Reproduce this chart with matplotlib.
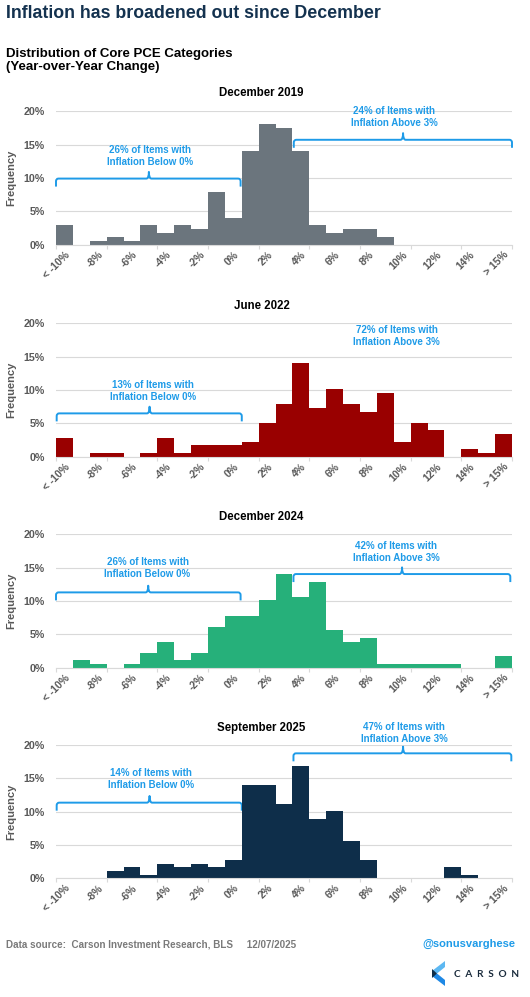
import matplotlib
matplotlib.use("Agg")
import matplotlib.pyplot as plt
from matplotlib.path import Path
from matplotlib.patches import PathPatch, Polygon

plt.rcParams['font.family'] = ['Liberation Sans', 'DejaVu Sans']

# ---------------- data ----------------
categories = ["< -10%", "-9%", "-8%", "-7%", "-6%", "-5%", "-4%", "-3%", "-2%", "-1%",
              "0%", "1%", "2%", "3%", "4%", "5%", "6%", "7%", "8%", "9%", "10%",
              "11%", "12%", "13%", "14%", "15%", "> 15%"]

panel_titles = ["December 2019", "June 2022", "December 2024", "September 2025"]

dec2019 = [2.9, 0, 0.6, 1.1, 0.6, 2.9, 1.7, 2.9, 2.3, 7.9, 4.0, 14.1, 18.1, 17.5,
           14.1, 2.9, 1.7, 2.3, 2.3, 1.1, 0, 0, 0, 0, 0, 0, 0]
jun2022 = [2.8, 0, 0.55, 0.55, 0, 0.55, 2.85, 0.55, 1.7, 1.7, 1.7, 2.25, 5.05, 7.9,
           14.05, 7.35, 10.15, 7.9, 6.75, 9.55, 2.25, 5.05, 3.95, 0, 1.15, 0.55, 3.4]
dec2024 = [0, 1.1, 0.55, 0, 0.55, 2.2, 3.9, 1.1, 2.2, 6.15, 7.8, 7.8, 10.1, 14.05,
           10.65, 12.9, 5.6, 3.9, 4.5, 0.55, 0.55, 0.55, 0.55, 0.55, 0, 0, 1.7]
sep2025 = [0, 0, 0, 1.1, 1.65, 0.55, 2.2, 1.65, 2.2, 1.65, 2.8, 14.0, 14.0, 11.2,
           16.8, 8.95, 10.1, 5.6, 2.8, 0, 0, 0, 0, 1.65, 0.55, 0, 0]
series = [dec2019, jun2022, dec2024, sep2025]

below_labels = ["26% of Items with\nInflation Below 0%", "13% of Items with\nInflation Below 0%",
                "26% of Items with\nInflation Below 0%", "14% of Items with\nInflation Below 0%"]
above_labels = ["24% of Items with\nInflation Above 3%", "72% of Items with\nInflation Above 3%",
                "42% of Items with\nInflation Above 3%", "47% of Items with\nInflation Above 3%"]

# ---------------- styles / layout ----------------
colors = ["#6B757D", "#990000", "#26B07A", "#0E2E4A"]
ann_blue = "#1E9BE8"
grey_txt = "#595959"
grid_c = "#D9D9D9"

W, H = 530, 997
def fx(x): return x / W
def fy(y): return 1 - y / H

ax_left, ax_right = 56, 512
ax_h = 133.3
ax_bottoms = [244.7, 456.7, 667.7, 878.3]
title_y = [93, 305.7, 516.7, 727.5]

# annotation layout: (text_x, text_y), bracket (x0, x1, y, xc) or None
left_ann = [((5.06, 13.3), (-0.5, 10.43, 9.92, 5.0)),
            ((5.22, 9.93), (-0.46, 10.5, 6.5, 5.04)),
            ((4.92, 14.95), (-0.5, 10.43, 11.3, 4.96)),
            ((5.1, 14.95), (-0.46, 10.5, 11.35, 5.04))]
right_ann = [((19.54, 19.1), (13.58, 26.5, 15.74, 20.05)),
             ((19.68, 18.07), None),
             ((19.66, 17.4), (13.56, 26.4, 14.05, 19.99)),
             ((20.1, 21.8), (13.56, 26.46, 18.75, 20.05))]

fig = plt.figure(figsize=(W / 100, H / 100), dpi=100)


def bracket(ax, x0, x1, y, xc, hook=1.2, tick=1.0, rx=0.15, ry=0.4):
    verts = [(x0, y - hook), (x0, y - ry), (x0, y), (x0 + rx, y),
             (xc - rx, y), (xc, y), (xc, y + tick),
             (xc, y), (xc + rx, y),
             (x1 - rx, y), (x1, y), (x1, y - ry), (x1, y - hook)]
    codes = [Path.MOVETO, Path.LINETO, Path.CURVE3, Path.CURVE3,
             Path.LINETO, Path.CURVE3, Path.CURVE3,
             Path.CURVE3, Path.CURVE3,
             Path.LINETO, Path.CURVE3, Path.CURVE3, Path.LINETO]
    p = PathPatch(Path(verts, codes), fill=False, edgecolor=ann_blue, lw=1.4,
                  clip_on=False, capstyle='butt', joinstyle='round')
    ax.add_patch(p)


xpos = list(range(len(categories)))
for i, vals in enumerate(series):
    b = ax_bottoms[i]
    ax = fig.add_axes([fx(ax_left), fy(b), (ax_right - ax_left) / W, ax_h / H])
    ax.bar(xpos, vals, width=1.0, color=colors[i], edgecolor='none', zorder=2)
    ax.set_xlim(-0.5, len(categories) - 0.5)
    ax.set_ylim(0, 20)
    ax.set_yticks([0, 5, 10, 15, 20])
    ax.set_yticklabels(["0%", "5%", "10%", "15%", "20%"])
    ax.grid(axis='y', color=grid_c, lw=0.8, zorder=0)
    ax.set_axisbelow(True)
    for s in ['top', 'right', 'left']:
        ax.spines[s].set_visible(False)
    ax.spines['bottom'].set_color(grid_c)
    ax.spines['bottom'].set_linewidth(0.8)
    ax.tick_params(axis='y', length=0, pad=8, labelsize=7.7, labelcolor=grey_txt)
    for t in ax.get_yticklabels():
        t.set_fontweight('bold')
    ax.set_xticks(xpos[::2])
    ax.set_xticklabels(categories[::2], rotation=45, ha='right', rotation_mode='anchor',
                       fontsize=7.5, color=grey_txt, fontweight='bold')
    ax.set_xticks([x - 0.5 for x in xpos[::3]] + [len(categories) - 0.5], minor=True)
    ax.tick_params(axis='x', which='major', length=0, pad=3.5)
    ax.tick_params(axis='x', which='minor', length=3, color=grid_c, width=0.8)
    ax.set_ylabel("Frequency", fontsize=8, color=grey_txt, fontweight='bold', labelpad=5)

    fig.text(fx(261.5), fy(title_y[i]), panel_titles[i], ha='center', va='center',
             fontsize=8.3, fontweight='bold', color='black')

    (tx, ty), br = left_ann[i]
    ax.text(tx, ty, below_labels[i], ha='center', va='center', fontsize=7,
            fontweight='bold', color=ann_blue, linespacing=1.25, clip_on=False)
    bracket(ax, *br)
    (tx, ty), br = right_ann[i]
    ax.text(tx, ty, above_labels[i], ha='center', va='center', fontsize=7,
            fontweight='bold', color=ann_blue, linespacing=1.25, clip_on=False)
    if br is not None:
        bracket(ax, *br)

# headings
fig.text(fx(6), fy(14), "Inflation has broadened out since December", ha='left', va='center',
         fontsize=12.75, fontweight='bold', color="#14324F")
fig.text(fx(6), fy(60.5), "Distribution of Core PCE Categories\n(Year-over-Year Change)",
         ha='left', va='center', fontsize=9.5, fontweight='bold', color='black', linespacing=1.15)

# footer
fig.text(fx(6), fy(944), "Data source:  Carson Investment Research, BLS     12/07/2025",
         ha='left', va='center', fontsize=7.1, fontweight='bold', color="#7A7A7A")
fig.text(fx(515), fy(944), "@sonusvarghese", ha='right', va='center', fontsize=8,
         fontweight='bold', color=ann_blue)

# logo
def P(pts):
    return [(fx(x), fy(y)) for x, y in pts]
fig.patches.append(Polygon(P([(432, 971), (445, 961), (445, 967), (437, 973.5)]),
                           closed=True, transform=fig.transFigure, color="#5DB8F2", lw=0))
fig.patches.append(Polygon(P([(432, 976), (437, 973.5), (445, 980), (445, 986)]),
                           closed=True, transform=fig.transFigure, color="#1E88E5", lw=0))
fig.patches.append(Polygon(P([(432, 969), (437, 973.5), (432, 978)]),
                           closed=True, transform=fig.transFigure, color="#0E2E4A", lw=0))
fig.text(fx(454), fy(974), "C  A  R  S  O  N", ha='left', va='center', fontsize=7.2,
         color="#1A2B3C", family=['Lato', 'DejaVu Sans'], fontweight='bold')

fig.savefig("out.png", dpi=100)
